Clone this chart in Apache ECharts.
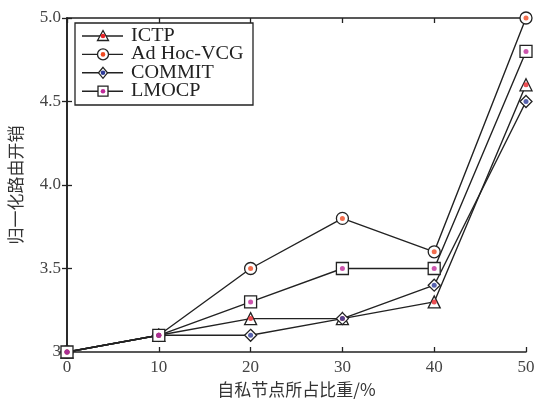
<!DOCTYPE html>
<html>
<head>
<meta charset="utf-8">
<script src="https://cdn.jsdelivr.net/npm/echarts@6/dist/echarts.min.js"></script>
<style>
html,body{margin:0;padding:0;background:#fff;}
#chart{width:534px;height:399px;}
</style>
</head>
<body>
<div id="chart"></div>
<script>
// Share of selfish nodes (%)
const categories = [0, 10, 20, 30, 40, 50];
// Normalized routing overhead per scheme
const ictp   = [3.0, 3.1, 3.2, 3.2, 3.3, 4.6];
const adhoc  = [3.0, 3.1, 3.5, 3.8, 3.6, 5.0];
const commit = [3.0, 3.1, 3.1, 3.2, 3.4, 4.5];
const lmocp  = [3.0, 3.1, 3.3, 3.5, 3.5, 4.8];
const yTicks = [3, 3.5, 4.0, 4.5, 5.0];

const names   = ['ICTP', 'Ad Hoc-VCG', 'COMMIT', 'LMOCP'];
const values  = [ictp, adhoc, commit, lmocp];
const symbols = ['triangle', 'circle', 'diamond', 'rect'];
const dots    = ['#e8262a', '#f04a22', '#2e3c9a', '#c02a9a'];

const serif = '"Liberation Serif", "DejaVu Serif", serif';
const cjk = '"Noto Sans CJK SC", sans-serif';

const chart = echarts.init(document.getElementById('chart'), null, {renderer: 'canvas'});

const grid = {left: 67, right: 8, top: 18, bottom: 47, outerBoundsMode: 'none', containLabel: false};

const series = [];
names.forEach((n, i) => {
  const pts = categories.map((c, k) => [c, values[i][k]]);
  series.push({
    name: n, type: 'line', data: pts,
    symbol: symbols[i], symbolSize: 12,
    lineStyle: {color: '#222', width: 1.4},
    itemStyle: {color: '#fff', borderColor: '#222', borderWidth: 1.3},
    z: 2 + i, animation: false
  });
  series.push({
    type: 'scatter', data: pts, symbol: 'circle', symbolSize: 5,
    itemStyle: {color: dots[i]}, z: 10 + i, animation: false, silent: true
  });
});

// Legend drawn as graphic elements inside the plot frame
const legendX = 75, legendY = 23, rowH = 18.4;
const legendChildren = [{
  type: 'rect', shape: {x: legendX, y: legendY, width: 178, height: 82},
  style: {fill: '#fff', stroke: '#222', lineWidth: 1.3}
}];
const symPath = {
  triangle: (cx, cy, s) => ({type: 'polygon', shape: {points: [[cx, cy - s/2], [cx + s/2, cy + s/2 - 1], [cx - s/2, cy + s/2 - 1]]}}),
  circle: (cx, cy, s) => ({type: 'circle', shape: {cx: cx, cy: cy, r: s/2}}),
  diamond: (cx, cy, s) => ({type: 'polygon', shape: {points: [[cx, cy - s/2], [cx + s/2 - 1, cy], [cx, cy + s/2], [cx - s/2 + 1, cy]]}}),
  rect: (cx, cy, s) => ({type: 'rect', shape: {x: cx - s/2 + 0.5, y: cy - s/2 + 0.5, width: s - 1, height: s - 1}})
};
names.forEach((n, i) => {
  const cy = legendY + 13 + i * rowH;
  const cx = legendX + 28;
  legendChildren.push({type: 'line', shape: {x1: legendX + 7, y1: cy, x2: legendX + 48, y2: cy}, style: {stroke: '#222', lineWidth: 1.4}});
  const s = symPath[symbols[i]](cx, cy, 11);
  s.style = {fill: '#fff', stroke: '#222', lineWidth: 1.3};
  legendChildren.push(s);
  legendChildren.push({type: 'circle', shape: {cx: cx, cy: cy, r: 2.3}, style: {fill: dots[i]}});
  legendChildren.push({
    type: 'text', x: legendX + 56, y: cy, scaleX: 1.12,
    style: {x: 0, y: 0, text: n, font: '18px ' + serif, fill: '#222', verticalAlign: 'middle'}
  });
});

const option = {
  backgroundColor: '#fff',
  animation: false,
  grid: grid,
  xAxis: [{
    type: 'value', min: 0, max: 50, interval: 10,
    name: '自私节点所占比重/%', nameLocation: 'middle', nameGap: 27,
    nameTextStyle: {fontFamily: cjk, fontSize: 17, color: '#333'},
    axisLine: {lineStyle: {color: '#222', width: 1.6}},
    axisTick: {inside: true, length: 5, lineStyle: {color: '#222', width: 1.3}},
    axisLabel: {fontFamily: serif, fontSize: 17, color: '#444', margin: 7},
    splitLine: {show: false}
  }, {
    type: 'value', min: 0, max: 50, interval: 10, position: 'top',
    axisLine: {show: true, lineStyle: {color: '#222', width: 1.6}},
    axisTick: {inside: true, length: 5, lineStyle: {color: '#222', width: 1.3}},
    axisLabel: {show: false}, splitLine: {show: false}
  }],
  yAxis: [{
    type: 'value', min: 3, max: 5, interval: 0.5,
    name: '归一化路由开销', nameLocation: 'middle', nameGap: 43,
    nameTextStyle: {fontFamily: cjk, fontSize: 17, color: '#333'},
    axisLine: {show: true, lineStyle: {color: '#222', width: 1.6}},
    axisTick: {inside: true, length: 5, lineStyle: {color: '#222', width: 1.3}},
    axisLabel: {
      fontFamily: serif, fontSize: 17, color: '#444', margin: 6,
      formatter: v => {
        const t = yTicks.find(y => Math.abs(y - v) < 1e-6);
        return t === 3 ? '3' : (t !== undefined ? t.toFixed(1) : '');
      }
    },
    splitLine: {show: false}
  }, {
    type: 'value', min: 3, max: 5, interval: 0.5, position: 'right',
    axisLine: {show: true, lineStyle: {color: '#222', width: 1.6}},
    axisTick: {inside: true, length: 5, lineStyle: {color: '#222', width: 1.3}},
    axisLabel: {show: false}, splitLine: {show: false}
  }],
  series: series,
  graphic: [{type: 'group', children: legendChildren, z: 100}]
};

chart.setOption(option);
</script>
</body>
</html>
